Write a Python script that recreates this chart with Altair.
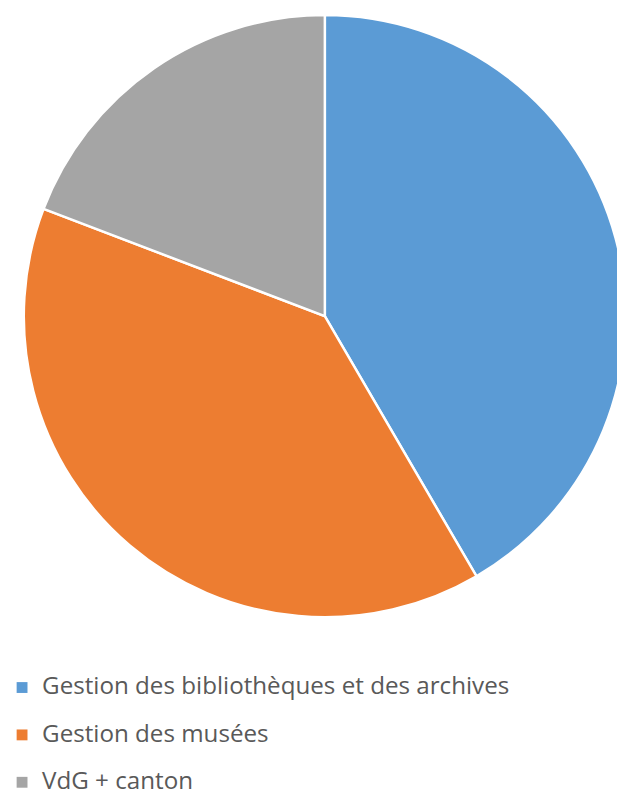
import altair as alt
import pandas as pd

categories = ["Gestion des bibliothèques et des archives", "Gestion des musées", "VdG + canton"]
values = [41.6, 39.2, 19.2]
colors = ["#5B9BD5", "#ED7D31", "#A5A5A5"]

df = pd.DataFrame({"cat": categories, "val": values, "ord": [0, 1, 2]})

chart = alt.Chart(df).mark_arc(
    outerRadius=305, stroke="white", strokeWidth=2.5
).encode(
    theta=alt.Theta("val:Q", stack=True),
    order=alt.Order("ord:Q"),
    color=alt.Color(
        "cat:N",
        sort=categories,
        scale=alt.Scale(domain=categories, range=colors),
        legend=alt.Legend(
            title=None,
            orient="none",
            legendX=2,
            legendY=671,
            padding=0,
            direction="vertical",
            symbolType="square",
            symbolSize=121,
            symbolStrokeWidth=0,
            labelFont="Open Sans",
            labelFontSize=24.5,
            labelColor="#595959",
            labelOffset=8,
            rowPadding=23,
            labelLimit=600,
        ),
    ),
    x=alt.value(321),
    y=alt.value(307),
).properties(
    width=617, height=792, padding=0, autosize=alt.AutoSizeParams(type="none")
).configure_view(stroke=None)

chart.save("out.html", embed_options={"renderer": "svg", "actions": False})
